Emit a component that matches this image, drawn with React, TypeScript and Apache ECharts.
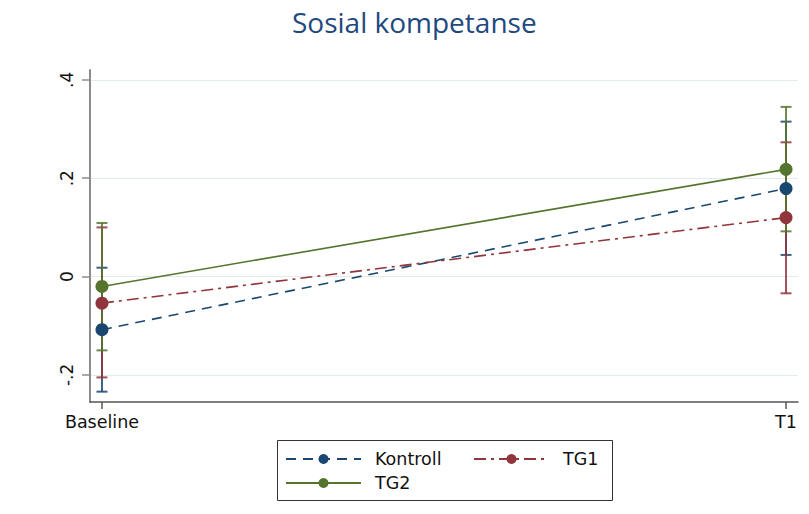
import React, { useEffect, useRef } from "react";
import * as echarts from "echarts";

const categories = ["Baseline", "T1"];
const xPositions = [0, 1];

const kontrollMean = [-0.108, 0.179];
const kontrollLow = [-0.234, 0.044];
const kontrollHigh = [0.018, 0.315];

const tg1Mean = [-0.054, 0.12];
const tg1Low = [-0.205, -0.034];
const tg1High = [0.1, 0.273];

const tg2Mean = [-0.02, 0.218];
const tg2Low = [-0.15, 0.092];
const tg2High = [0.109, 0.345];

const yTickValues = [-0.2, 0, 0.2, 0.4];
const yTickLabels = ["-.2", "0", ".2", ".4"];

const seriesNames = ["Kontroll", "TG1", "TG2"];
const colors = ["#1a476f", "#90353b", "#55752f"];

const FONT = "DejaVu Sans";

function pairs(xs: number[], ys: number[]) {
  return xs.map((x, i) => [x, ys[i]]);
}
function ranges(xs: number[], lo: number[], hi: number[]) {
  return xs.map((x, i) => [x, lo[i], hi[i]]);
}

function errorBarSeries(name: string, data: number[][], color: string) {
  return {
    type: "custom",
    name: name + " KI",
    data,
    encode: { x: 0, y: [1, 2] },
    z: 2,
    silent: true,
    renderItem: (params: any, api: any) => {
      const x = api.value(0);
      const lo = api.coord([x, api.value(1)]);
      const hi = api.coord([x, api.value(2)]);
      const hw = 5.5;
      const style = { stroke: color, lineWidth: 2, opacity: 0.85 };
      return {
        type: "group",
        children: [
          { type: "line", shape: { x1: lo[0], y1: lo[1], x2: hi[0], y2: hi[1] }, style },
          { type: "line", shape: { x1: lo[0] - hw, y1: lo[1], x2: lo[0] + hw, y2: lo[1] }, style },
          { type: "line", shape: { x1: hi[0] - hw, y1: hi[1], x2: hi[0] + hw, y2: hi[1] }, style },
        ],
      };
    },
  };
}

function lineSeries(name: string, data: number[][], color: string, dash: any) {
  return {
    type: "line",
    name,
    data,
    z: 3,
    symbol: "circle",
    symbolSize: 13,
    itemStyle: { color },
    lineStyle: { color, width: 1.6, type: dash },
  };
}

const legendBase = {
  orient: "horizontal",
  padding: 0,
  itemWidth: 75,
  itemHeight: 12.5,
  textStyle: { fontFamily: FONT, fontSize: 17.5, color: "#111", padding: [0, 0, 0, 9] },
};

export default function App() {
  const ref = useRef<HTMLDivElement>(null);
  useEffect(() => {
    const chart = echarts.init(ref.current!, undefined, { renderer: "svg" });
    chart.setOption({
      animation: false,
      backgroundColor: "#ffffff",
      title: {
        text: "Sosial kompetanse",
        left: 292,
        top: 8,
        padding: 0,
        textStyle: { fontFamily: "Open Sans", fontSize: 28, fontWeight: "normal", color: "#1F497D" },
      },
      grid: { left: 90, right: 11, top: 70, bottom: 112, containLabel: false, outerBoundsMode: "none" },
      xAxis: {
        type: "value",
        min: -0.0175,
        max: 1.0175,
        axisLine: { onZero: false, lineStyle: { color: "#555555", width: 1.5 } },
        axisTick: { show: true, length: 7, customValues: xPositions, lineStyle: { color: "#555555", width: 1.5 } },
        axisLabel: {
          customValues: xPositions,
          formatter: (v: number) => categories[Math.round(v)],
          margin: 11,
          fontFamily: FONT,
          fontSize: 17.5,
          color: "#111",
        },
        splitLine: { show: false },
      },
      yAxis: {
        type: "value",
        min: -0.255,
        max: 0.42,
        axisLine: { show: true, onZero: false, lineStyle: { color: "#8c8c8c", width: 2 } },
        axisTick: { show: true, length: 8, customValues: yTickValues, lineStyle: { color: "#8c8c8c", width: 1.5 } },
        axisLabel: {
          customValues: yTickValues,
          rotate: 90,
          margin: 15,
          formatter: (v: number) => {
            const i = yTickValues.findIndex((t) => Math.abs(t - v) < 1e-9);
            return i >= 0 ? yTickLabels[i] : "";
          },
          fontFamily: FONT,
          fontSize: 17,
          color: "#111",
        },
        splitLine: { show: true, lineStyle: { color: "#e2ecef", width: 1 } },
      },
      legend: [
        { ...legendBase, data: [seriesNames[0]], left: 285, top: 450 },
        { ...legendBase, data: [seriesNames[1]], left: 473, top: 450 },
        { ...legendBase, data: [seriesNames[2]], left: 285, top: 474 },
      ],
      graphic: [
        {
          type: "rect",
          shape: { x: 277.5, y: 440.5, width: 335, height: 60 },
          style: { fill: "none", stroke: "#333333", lineWidth: 1 },
          silent: true,
        },
      ],
      series: [
        errorBarSeries(seriesNames[0], ranges(xPositions, kontrollLow, kontrollHigh), colors[0]),
        errorBarSeries(seriesNames[1], ranges(xPositions, tg1Low, tg1High), colors[1]),
        errorBarSeries(seriesNames[2], ranges(xPositions, tg2Low, tg2High), colors[2]),
        lineSeries(seriesNames[0], pairs(xPositions, kontrollMean), colors[0], [10, 7]),
        lineSeries(seriesNames[1], pairs(xPositions, tg1Mean), colors[1], [12, 5, 3, 5]),
        lineSeries(seriesNames[2], pairs(xPositions, tg2Mean), colors[2], "solid"),
      ],
    });
    return () => chart.dispose();
  }, []);
  return (
    <div
      ref={ref}
      style={{ position: "fixed", left: 0, top: 0, width: 809, height: 514 }}
    />
  );
}
